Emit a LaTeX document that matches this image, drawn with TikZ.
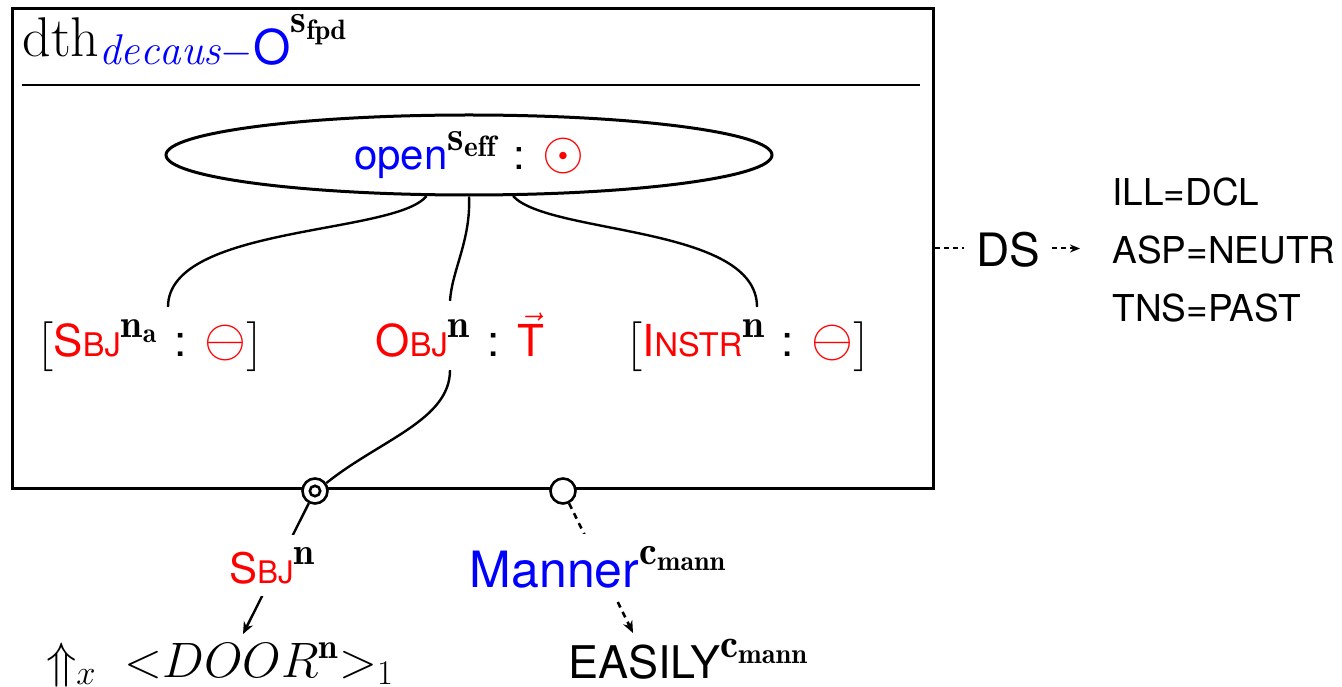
\documentclass[tikz,border=0pt]{standalone}
\usepackage{amsmath}
\usepackage{fontspec}
\setsansfont{TeX Gyre Heros}
\usepackage{xcolor}
\definecolor{roleRouge}{HTML}{FF0000}
\definecolor{predBleu}{HTML}{0000FF}
\usepackage{tikz}
\usetikzlibrary{arrows.meta, shapes.geometric}
\newcommand{\petitesCap}[2]{#1\scalebox{0.74}{#2}}
\newcommand{\expo}[2][0.9]{\raisebox{0.45em}{\scalebox{#1}{$#2$}}}
\newcommand{\deuxPoints}{\hspace{0.4em}:\hspace{0.4em}}
\newcommand{\grand}[1]{\scalebox{1.3}{$#1$}}
\tikzset{
  %% ── Boxes ──
  cadre/.style      = {draw, line width=1.5pt, inner sep=0pt},
  predicat/.style   = {ellipse, draw, line width=1.5pt, minimum width=303pt,
                       minimum height=40pt, inner sep=0pt,
                       font=\fontsize{21}{25}\selectfont\sffamily},
  argument/.style   = {anchor=base, inner sep=6pt,
                       font=\fontsize{22}{26}\selectfont\sffamily},
  etiquette/.style  = {anchor=base, fill=white, inner sep=6pt},
  anneau/.style     = {circle, draw, fill=white, line width=1.3pt,
                       minimum size=12.5pt, inner sep=0pt},
  %% ── Lines ──
  trait/.style      = {line width=1.2pt},
  fleche/.style     = {-{Stealth[length=6pt, width=5pt]}, line width=1.2pt},
  flecheTirets/.style = {-{Stealth[length=6pt, width=5pt]}, line width=1.3pt,
                       dash pattern=on 3pt off 2.5pt},
  flecheDS/.style   = {-{Stealth[length=5pt, width=4pt]}, line width=1pt,
                       dash pattern=on 2.5pt off 2pt},
}
\begin{document}
\begin{tikzpicture}[x=0.5pt, y=0.5pt, font=\sffamily]
\useasboundingbox (0,0) rectangle (1342,686);

\node[cadre, minimum width=460.5pt, minimum height=240pt, anchor=south west] (dth) at (11,196) {};
\node[anchor=base west, inner sep=0pt] (titre) at (22,629)
     {\fontsize{28}{32}\selectfont\rmfamily dth%
      \raisebox{-4pt}{\color{predBleu}\fontsize{21.5}{25}\selectfont$\mathit{decaus}{-}$\textsf{\fontsize{24}{28}\selectfont O}}%
      \raisebox{12pt}{\fontsize{20}{24}\selectfont$\mathbf{s}_{\mathbf{fpd}}$}};
\draw[line width=1pt] (22,601) -- (920,601);

\node[predicat] (open) at (469,531)
     {\textcolor{predBleu}{open}\expo[1]{\mathbf{s}_{\mathbf{eff}}}\deuxPoints\textcolor{roleRouge}{\grand{\odot}}};

\node[argument] (sbj) at (150,329)
     {$\bigl[$\textcolor{roleRouge}{\petitesCap{S}{BJ}}\expo{\mathbf{n}_{\mathbf{a}}}\deuxPoints\textcolor{roleRouge}{\grand{\ominus}}$\bigr]$};
\node[argument] (obj) at (460,329)
     {\textcolor{roleRouge}{\petitesCap{O}{BJ}}\expo{\mathbf{n}}\deuxPoints\textcolor{roleRouge}{$\vec{\mathsf{T}}$}};
\node[argument] (instr) at (748,329)
     {$\bigl[$\textcolor{roleRouge}{\petitesCap{I}{NSTR}}\expo{\mathbf{n}}\deuxPoints\textcolor{roleRouge}{\grand{\ominus}}$\bigr]$};

\draw[trait] (open.224) .. controls (395,451) and (168,461) .. ([xshift=9pt]sbj.north);
\draw[trait] (open.270) .. controls (471,446) and (452,416) .. ([xshift=-5pt]obj.north);
\draw[trait] (open.317) .. controls (549,451) and (757,461) .. ([xshift=4.5pt]instr.north);

\node[anneau, path picture={\draw[line width=1.3pt] (path picture bounding box.center) circle (2.6pt);}]
     (sbjAnneau) at (315,195) {};
\node[anneau] (mannAnneau) at (563,195) {};
\draw[trait] ([xshift=-5pt]obj.south) .. controls (450,266) and (380,246) .. (sbjAnneau.35);

\node[anchor=base, inner sep=4pt, font=\fontsize{25}{29}\selectfont] (door) at (220,9)
     {$\Uparrow_x\;{<}DOOR^{\mathbf{n}}{>}_1$};
\node[anchor=base, inner sep=3pt, font=\fontsize{22.5}{27}\selectfont\sffamily] (easily) at (688,8)
     {EASILY\expo{\mathbf{c}_{\mathbf{mann}}}};
\node[anchor=west, align=left, inner xsep=16pt, font=\fontsize{18.5}{29}\selectfont\sffamily]
     (traits) at (1080,436) {ILL=DCL\\ASP=NEUTR\\TNS=PAST};

\draw[fleche] (sbjAnneau) -- ([xshift=11.5pt]door.north);
\draw[flecheTirets] (mannAnneau) -- ([xshift=-27.5pt]easily.north);
\draw[flecheDS] (dth.east) -- (dth.east -| traits.west);

\node[etiquette, font=\fontsize{21}{25}\selectfont\sffamily] (sbjn) at (272,103)
     {\textcolor{roleRouge}{\petitesCap{S}{BJ}}\expo{\mathbf{n}}};
\node[etiquette, font=\fontsize{25}{29}\selectfont\sffamily] (manner) at (598,99)
     {\textcolor{predBleu}{Manner}\expo[0.8]{\mathbf{c}_{\mathbf{mann}}}};
\node[etiquette, anchor=center, font=\fontsize{23}{27}\selectfont\sffamily] (ds) at (1008,436) {DS};

\end{tikzpicture}
\end{document}
